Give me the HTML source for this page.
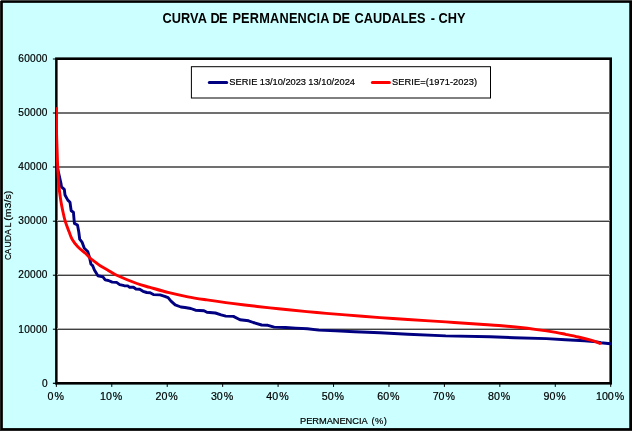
<!DOCTYPE html>
<html><head><meta charset="utf-8"><title>Curva de permanencia</title>
<style>
html,body{margin:0;padding:0;background:#fff;}
body{width:633px;height:432px;overflow:hidden;font-family:"Liberation Sans",sans-serif;}
svg{display:block;will-change:transform}
text{font-family:"Liberation Sans",sans-serif;fill:#000;stroke:#000;stroke-width:0.2px}
.t{font-size:10.1px;letter-spacing:0.3px}
.x{font-size:10.67px}
.s{font-size:9.8px}
.title{font-size:14.2px;font-weight:bold;stroke:none}
</style></head><body>
<svg width="633" height="432" viewBox="0 0 633 432">
<defs><clipPath id="pc"><rect x="55.9" y="58" width="555.5" height="326"/></clipPath></defs>
<rect x="0" y="0" width="633" height="432" fill="#fff"/>
<rect x="0" y="0" width="632" height="430.85" fill="#000"/>
<rect x="0" y="0" width="632" height="1" fill="#444"/>
<rect x="0" y="0" width="1" height="431" fill="#222"/>
<rect x="0" y="0" width="1" height="1" fill="#ccc"/>
<rect x="2.85" y="2.85" width="626.4" height="425.25" fill="#ccffff"/>
<!-- plot area -->
<rect x="55.1" y="57.4" width="556.9" height="327.2" fill="#000"/>
<rect x="57.6" y="60" width="551.8" height="322" fill="#fff"/>
<rect x="57" y="112" width="553" height="1" fill="#707070"/><rect x="57" y="113" width="553" height="1" fill="#707070"/>
<rect x="57" y="166" width="553" height="1" fill="#707070"/><rect x="57" y="167" width="553" height="1" fill="#707070"/>
<rect x="57" y="220" width="553" height="1" fill="#b0b0b0"/><rect x="57" y="221" width="553" height="1" fill="#404040"/>
<rect x="57" y="274" width="553" height="1" fill="#b0b0b0"/><rect x="57" y="275" width="553" height="1" fill="#404040"/>
<rect x="57" y="328" width="553" height="1" fill="#b0b0b0"/><rect x="57" y="329" width="553" height="1" fill="#404040"/>

<rect x="52.9" y="58" width="3" height="1" fill="#000" opacity="0.5"/><rect x="52.9" y="59" width="3" height="1" fill="#000" opacity="0.5"/>
<rect x="52.9" y="112" width="3" height="1" fill="#000" opacity="0.56"/><rect x="52.9" y="113" width="3" height="1" fill="#000" opacity="0.56"/>
<rect x="52.9" y="166" width="3" height="1" fill="#000" opacity="0.56"/><rect x="52.9" y="167" width="3" height="1" fill="#000" opacity="0.56"/>
<rect x="52.9" y="220" width="3" height="1" fill="#000" opacity="0.31"/><rect x="52.9" y="221" width="3" height="1" fill="#000" opacity="0.75"/>
<rect x="52.9" y="274" width="3" height="1" fill="#000" opacity="0.31"/><rect x="52.9" y="275" width="3" height="1" fill="#000" opacity="0.75"/>
<rect x="52.9" y="328" width="3" height="1" fill="#000" opacity="0.31"/><rect x="52.9" y="329" width="3" height="1" fill="#000" opacity="0.75"/>
<rect x="52.9" y="382" width="3" height="1" fill="#000" opacity="0.31"/><rect x="52.9" y="383" width="3" height="1" fill="#000" opacity="0.9"/>
<rect x="55.85" y="383" width="1" height="3.9" fill="#000"/>
<rect x="111.28" y="383" width="1" height="3.9" fill="#000"/>
<rect x="166.72" y="383" width="1" height="3.9" fill="#000"/>
<rect x="222.16" y="383" width="1" height="3.9" fill="#000"/>
<rect x="277.59" y="383" width="1" height="3.9" fill="#000"/>
<rect x="333.03" y="383" width="1" height="3.9" fill="#000"/>
<rect x="388.46" y="383" width="1" height="3.9" fill="#000"/>
<rect x="443.90" y="383" width="1" height="3.9" fill="#000"/>
<rect x="499.33" y="383" width="1" height="3.9" fill="#000"/>
<rect x="554.77" y="383" width="1" height="3.9" fill="#000"/>
<rect x="610.20" y="383" width="1" height="3.9" fill="#000"/>

<g clip-path="url(#pc)"><polyline points="57.2,167.0 58.6,172.8 60.9,183.0 61.5,186.8 64.3,189.3 65.0,195.0 67.8,200.1 70.0,202.3 70.5,206.0 71.2,210.7 73.4,212.2 74.4,223.4 77.5,225.0 78.8,232.0 79.7,239.2 82.2,242.4 84.3,248.3 87.7,251.5 89.6,257.7 90.9,264.0 92.8,265.9 94.4,270.1 97.9,275.8 102.7,276.7 105.2,279.9 108.4,280.5 112.2,282.1 116.6,282.4 119.7,284.6 124.2,285.7 127.8,285.9 129.7,287.3 133.5,287.3 135.9,289.0 139.7,289.2 143.0,291.3 146.8,292.5 150.1,292.8 153.4,294.6 160.1,294.9 164.8,296.3 168.1,297.6 171.0,301.1 175.2,304.9 180.9,307.0 185.0,307.5 190.8,308.5 195.5,310.2 204.0,310.8 206.9,312.3 215.4,313.0 221.1,314.9 225.8,316.1 233.4,316.4 240.0,319.7 248.6,320.8 253.3,322.5 261.6,325.0 267.9,325.3 274.2,327.1 285.6,327.5 295.7,328.1 307.4,328.7 318.8,330.1 335.8,330.9 354.8,331.8 380.0,332.8 407.9,334.2 445.8,335.9 490.0,336.8 514.1,337.7 546.4,338.6 565.3,339.8 584.6,340.8 596.8,341.9 601.0,342.7 610.5,343.7" fill="none" stroke="#000080" stroke-width="2.9" stroke-linejoin="round" stroke-linecap="round"/>
<path d="M56.40,107.20 C56.42,111.00 56.38,122.87 56.50,130.00 C56.62,137.13 56.90,143.87 57.10,150.00 C57.30,156.13 57.42,160.97 57.70,166.80 C57.98,172.63 58.30,179.47 58.80,185.00 C59.30,190.53 60.07,195.82 60.70,200.00 C61.33,204.18 61.85,206.57 62.60,210.10 C63.35,213.63 64.13,217.62 65.20,221.20 C66.27,224.78 67.85,228.60 69.00,231.60 C70.15,234.60 70.63,236.67 72.10,239.20 C73.57,241.73 75.58,244.45 77.80,246.80 C80.02,249.15 83.25,251.33 85.40,253.30 C87.55,255.27 89.10,257.18 90.70,258.60 C92.30,260.02 93.42,260.60 95.00,261.80 C96.58,263.00 98.10,264.43 100.20,265.80 C102.30,267.17 104.85,268.42 107.60,270.00 C110.35,271.58 111.82,273.05 116.70,275.30 C121.58,277.55 131.35,281.48 136.90,283.50 C142.45,285.52 144.65,285.87 150.00,287.40 C155.35,288.93 162.68,291.13 169.00,292.70 C175.32,294.27 181.58,295.60 187.90,296.80 C194.22,298.00 200.58,298.93 206.90,299.90 C213.22,300.87 219.48,301.75 225.80,302.60 C232.12,303.45 237.43,304.12 244.80,305.00 C252.17,305.88 262.73,307.10 270.00,307.90 C277.27,308.70 280.58,309.03 288.40,309.80 C296.22,310.57 307.42,311.65 316.90,312.50 C326.38,313.35 334.78,314.05 345.30,314.90 C355.82,315.75 369.57,316.83 380.00,317.60 C390.43,318.37 396.93,318.78 407.90,319.50 C418.87,320.22 433.78,321.12 445.80,321.90 C457.82,322.68 471.13,323.60 480.00,324.20 C488.87,324.80 492.68,324.98 499.00,325.50 C505.32,326.02 511.58,326.62 517.90,327.30 C524.22,327.98 530.58,328.75 536.90,329.60 C543.22,330.45 551.02,331.62 555.80,332.40 C560.58,333.18 561.85,333.53 565.60,334.30 C569.35,335.07 574.08,336.02 578.30,337.00 C582.52,337.98 587.22,339.13 590.90,340.20 C594.58,341.27 598.82,342.87 600.40,343.40" fill="none" stroke="#ff0000" stroke-width="2.9" stroke-linejoin="round" stroke-linecap="butt"/>
<circle cx="600.4" cy="343.4" r="1.4" fill="#ff0000"/></g>
<!-- legend -->
<rect x="191.4" y="66.7" width="299.1" height="31.3" fill="#fff" stroke="#000" stroke-width="1"/>
<line x1="209.3" y1="82.4" x2="226.7" y2="82.4" stroke="#000080" stroke-width="3" stroke-linecap="round"/>
<text transform="translate(229.3,85.3) scale(0.95,1)" class="s" textLength="29.6" lengthAdjust="spacing">SERIE</text>
<text transform="translate(259.8,85.3) scale(0.95,1)" class="s" textLength="48.6" lengthAdjust="spacing">13/10/2023</text>
<text transform="translate(308.2,85.3) scale(0.95,1)" class="s" textLength="49.3" lengthAdjust="spacing">13/10/2024</text>
<text transform="translate(392.0,85.3) scale(0.95,1)" class="s" textLength="89.7" lengthAdjust="spacing">SERIE=(1971-2023)</text>

<line x1="372.4" y1="82.4" x2="389.4" y2="82.4" stroke="#ff0000" stroke-width="3" stroke-linecap="round"/>
<!-- title -->
<text transform="translate(162.4,22.5) scale(0.9,1)" class="title" textLength="49.4" lengthAdjust="spacing">CURVA</text>
<text transform="translate(210.4,22.5) scale(0.9,1)" class="title" textLength="19.1" lengthAdjust="spacing">DE</text>
<text transform="translate(232.4,22.5) scale(0.9,1)" class="title" textLength="107.8" lengthAdjust="spacing">PERMANENCIA</text>
<text transform="translate(332.4,22.5) scale(0.9,1)" class="title" textLength="19.7" lengthAdjust="spacing">DE</text>
<text transform="translate(354.6,22.5) scale(0.9,1)" class="title" textLength="78.9" lengthAdjust="spacing">CAUDALES</text>
<text transform="translate(430.7,22.5) scale(0.9,1)" class="title" textLength="5.8" lengthAdjust="spacing">-</text>
<text transform="translate(438.6,22.5) scale(0.9,1)" class="title" textLength="30.0" lengthAdjust="spacing">CHY</text>

<text x="47.8" y="62.00" text-anchor="end" class="t">60000</text>
<text x="47.8" y="116.12" text-anchor="end" class="t">50000</text>
<text x="47.8" y="170.23" text-anchor="end" class="t">40000</text>
<text x="47.8" y="224.35" text-anchor="end" class="t">30000</text>
<text x="47.8" y="278.47" text-anchor="end" class="t">20000</text>
<text x="47.8" y="332.58" text-anchor="end" class="t">10000</text>
<text x="47.8" y="386.70" text-anchor="end" class="t">0</text>

<text x="55.75" y="400" text-anchor="middle" class="x">0<tspan dx="0.9">%</tspan></text>
<text x="111.19" y="400" text-anchor="middle" class="x">10<tspan dx="0.9">%</tspan></text>
<text x="166.62" y="400" text-anchor="middle" class="x">20<tspan dx="0.9">%</tspan></text>
<text x="222.06" y="400" text-anchor="middle" class="x">30<tspan dx="0.9">%</tspan></text>
<text x="277.49" y="400" text-anchor="middle" class="x">40<tspan dx="0.9">%</tspan></text>
<text x="332.93" y="400" text-anchor="middle" class="x">50<tspan dx="0.9">%</tspan></text>
<text x="388.36" y="400" text-anchor="middle" class="x">60<tspan dx="0.9">%</tspan></text>
<text x="443.80" y="400" text-anchor="middle" class="x">70<tspan dx="0.9">%</tspan></text>
<text x="499.23" y="400" text-anchor="middle" class="x">80<tspan dx="0.9">%</tspan></text>
<text x="554.67" y="400" text-anchor="middle" class="x">90<tspan dx="0.9">%</tspan></text>
<text x="610.10" y="400" text-anchor="middle" class="x">100<tspan dx="0.9">%</tspan></text>

<text transform="translate(300.1,424.1) scale(0.95,1)" class="s" textLength="71.1" lengthAdjust="spacing">PERMANENCIA</text>
<text transform="translate(371.5,424.1) scale(0.95,1)" class="s" textLength="16.2" lengthAdjust="spacing">(%)</text>

<text transform="translate(11.1,260.1) rotate(-90)" class="s" textLength="11.5" lengthAdjust="spacingAndGlyphs">CA</text>
<text transform="translate(11.1,247.5) rotate(-90)" class="s" textLength="18.4" lengthAdjust="spacingAndGlyphs">UDA</text>
<text transform="translate(11.1,227.5) rotate(-90)" class="s" textLength="4.9" lengthAdjust="spacingAndGlyphs">L</text>
<text transform="translate(11.1,220.7) rotate(-90)" class="s" textLength="29.9" lengthAdjust="spacingAndGlyphs">(m3/s)</text>

</svg>
</body></html>
